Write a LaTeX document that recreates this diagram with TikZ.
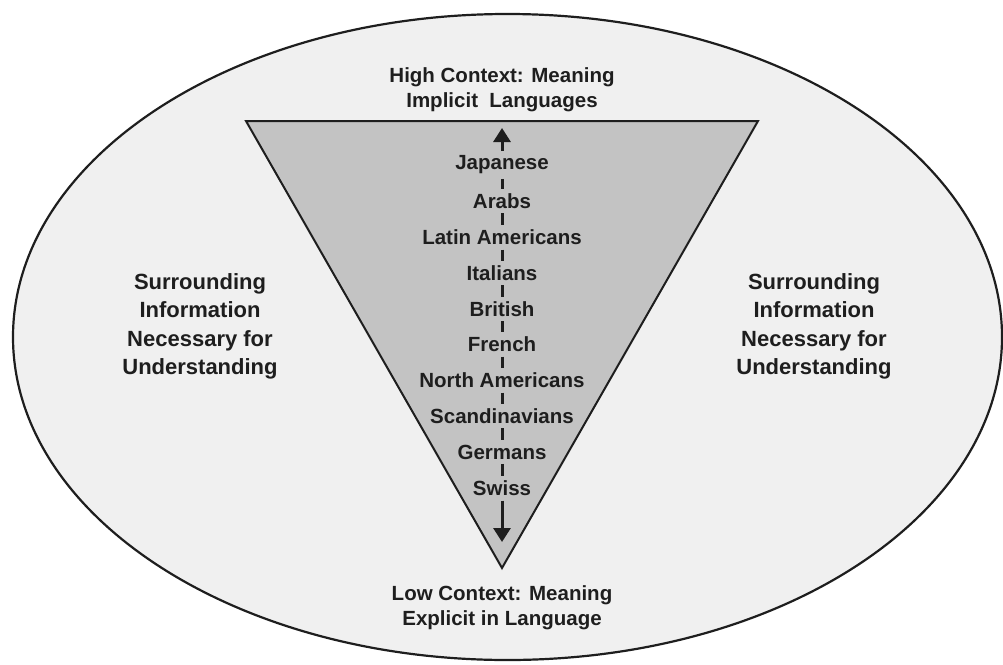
\documentclass[tikz,border=0pt]{standalone}
\usepackage{fontspec}
\setmainfont{Liberation Sans}
\usetikzlibrary{arrows.meta}
\definecolor{ellfill}{HTML}{F0F0F0}
\definecolor{trifill}{HTML}{C3C3C3}
\definecolor{ink}{HTML}{1E1E1E}
\tikzset{
  lang/.style={fill=trifill, inner xsep=2pt, inner ysep=4.5pt, text=ink,
    font=\fontsize{20.5}{24}\selectfont\bfseries},
  head/.style={align=center, text=ink, font=\fontsize{20.5}{25}\selectfont\bfseries},
  side/.style={align=center, text=ink, font=\fontsize{22}{28.5}\selectfont\bfseries},
  axis/.style={ink, line width=3pt},
  tip/.style={-{Triangle[width=17pt,length=14pt]}},
}
\begin{document}
\begin{tikzpicture}[x=1pt,y=-1pt]
\useasboundingbox (0,0) rectangle (1003,664);
\draw[ink, line width=2.2pt, fill=ellfill] (507.5,337) ellipse [x radius=494.5, y radius=323];
\draw[ink, line width=2pt, fill=trifill, line join=miter] (246,121) -- (758,121) -- (502,568) -- cycle;
\coordinate (atop) at (502,128);
\coordinate (abot) at (502,542);
\node[lang] (l1) at (502,165) {Japanese};
\node[lang] (l2) at (502,201) {Arabs};
\node[lang] (l3) at (502,237.5) {Latin Americans};
\node[lang] (l4) at (502,273) {Italians};
\node[lang] (l5) at (502,309) {British};
\node[lang] (l6) at (502,344.5) {French};
\node[lang] (l7) at (502,380.5) {North Americans};
\node[lang] (l8) at (502,416) {Scandinavians};
\node[lang] (l9) at (502,452) {Germans};
\node[lang] (l10) at (502,488.5) {Swiss};
\draw[axis, tip] (l1.north) -- (atop);
\foreach \a/\b in {l1/l2,l2/l3,l3/l4,l4/l5,l5/l6,l6/l7,l7/l8,l8/l9,l9/l10}
  \draw[axis] (\a.south) -- (\b.north);
\draw[axis, tip] (l10.south) -- (abot);
\node[head] (high) at (502,90) {High Context: Meaning\\Implicit\ \ Languages};
\node[head] (low) at (502,607.5) {Low Context: Meaning\\Explicit in Language};
\node[side] (left) at (200,326.5) {Surrounding\\Information\\Necessary for\\Understanding};
\node[side] (right) at (814,326.5) {Surrounding\\Information\\Necessary for\\Understanding};
\end{tikzpicture}
\end{document}
